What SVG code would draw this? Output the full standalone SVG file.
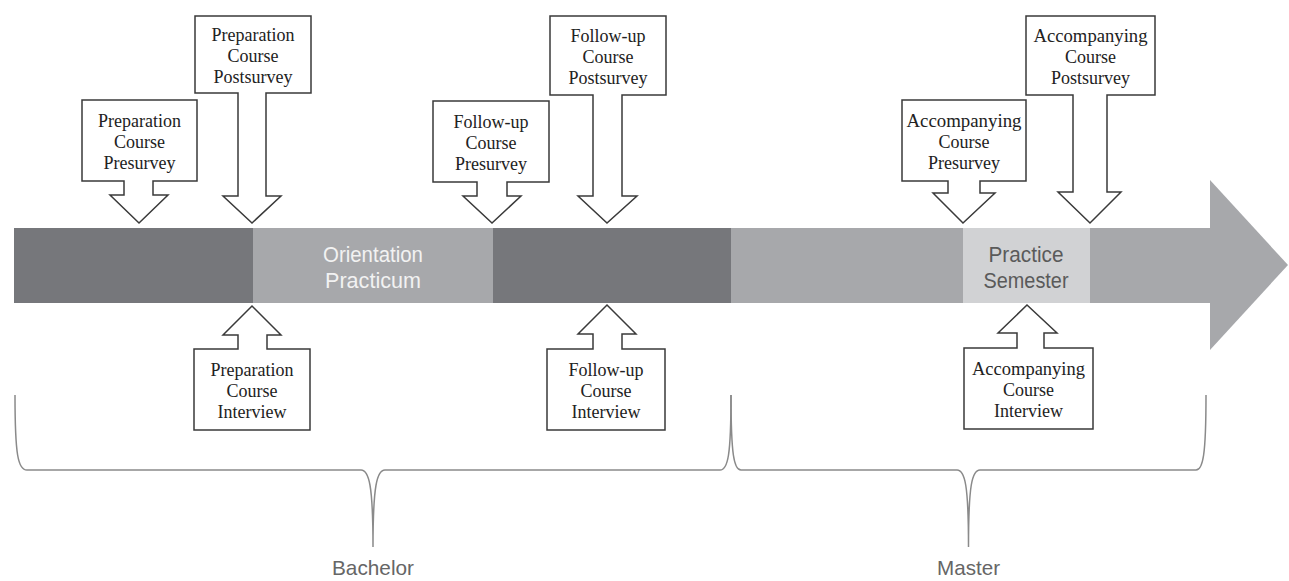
<svg xmlns="http://www.w3.org/2000/svg" width="1289" height="581" viewBox="0 0 1289 581">
<style>
.dark{fill:#76777b}
.mid{fill:#a7a8ab}
.light{fill:#d1d2d4}
.call{fill:#ffffff;stroke:#3a3a3a;stroke-width:1.5;stroke-linejoin:miter}
.ct{font-family:"Liberation Serif","Times New Roman",serif;font-size:18px;fill:#222;text-anchor:middle}
.bt{font-family:"Liberation Sans",Arial,sans-serif;font-size:22px;text-anchor:middle}
.brace{fill:none;stroke:#8a8a8a;stroke-width:1.5}
.lbl{font-family:"Liberation Sans",Arial,sans-serif;font-size:21px;fill:#666;text-anchor:middle}
</style>
<rect width="1289" height="581" fill="#ffffff"/>
<g id="timeline">
<rect class="dark" x="14" y="228" width="240" height="75"/>
<rect class="mid" x="253" y="228" width="241" height="75"/>
<rect class="dark" x="493" y="228" width="239" height="75"/>
<rect class="mid" x="731" y="228" width="233" height="75"/>
<rect class="light" x="963" y="228" width="128" height="75"/>
<rect class="mid" x="1090" y="228" width="121" height="75"/>
<polygon class="mid" points="1210,180 1288,265 1210,350"/>
</g>
<g id="orientation">
<text class="bt" fill="#f2f2f2" x="373" y="262" textLength="100" lengthAdjust="spacingAndGlyphs">Orientation</text>
<text class="bt" fill="#f2f2f2" x="373" y="288" textLength="96" lengthAdjust="spacingAndGlyphs">Practicum</text>
</g>
<g id="practice">
<text class="bt" fill="#5a5a5a" x="1026" y="262" textLength="75" lengthAdjust="spacingAndGlyphs">Practice</text>
<text class="bt" fill="#5a5a5a" x="1026" y="288" textLength="85" lengthAdjust="spacingAndGlyphs">Semester</text>
</g>
<g id="prep-pre">
<path class="call" d="M82 100 H197 V181 H153 V195 H168 L139 223 L110 195 H124 V181 H82 Z"/>
<text class="ct" x="139.5" y="127">Preparation</text>
<text class="ct" x="139.5" y="148">Course</text>
<text class="ct" x="139.5" y="169">Presurvey</text>
</g>
<g id="prep-post">
<path class="call" d="M195 16 H311 V93 H266 V196 H281 L252 223 L223 196 H238 V93 H195 Z"/>
<text class="ct" x="253" y="41">Preparation</text>
<text class="ct" x="253" y="62">Course</text>
<text class="ct" x="253" y="83">Postsurvey</text>
</g>
<g id="fu-pre">
<path class="call" d="M433 101 H549 V182 H507 V196 H521 L492 223 L463 196 H477 V182 H433 Z"/>
<text class="ct" x="491" y="128">Follow-up</text>
<text class="ct" x="491" y="149">Course</text>
<text class="ct" x="491" y="170">Presurvey</text>
</g>
<g id="fu-post">
<path class="call" d="M550 16 H666 V95 H622 V196 H637 L607 223 L578 196 H593 V95 H550 Z"/>
<text class="ct" x="608" y="42">Follow-up</text>
<text class="ct" x="608" y="63">Course</text>
<text class="ct" x="608" y="84">Postsurvey</text>
</g>
<g id="acc-pre">
<path class="call" d="M902 100 H1026 V181 H980 V193 H995 L963 223 L933 193 H948 V181 H902 Z"/>
<text class="ct" x="964" y="127" textLength="115" lengthAdjust="spacingAndGlyphs">Accompanying</text>
<text class="ct" x="964" y="148">Course</text>
<text class="ct" x="964" y="169">Presurvey</text>
</g>
<g id="acc-post">
<path class="call" d="M1026 16 H1155 V95 H1107 V192 H1121 L1090 223 L1058 192 H1073 V95 H1026 Z"/>
<text class="ct" x="1090.5" y="42" textLength="114" lengthAdjust="spacingAndGlyphs">Accompanying</text>
<text class="ct" x="1090.5" y="63">Course</text>
<text class="ct" x="1090.5" y="84">Postsurvey</text>
</g>
<g id="prep-int">
<path class="call" d="M194 430 H310 V349 H267 V335 H281 L252 306 L223 335 H238 V349 H194 Z"/>
<text class="ct" x="252" y="376">Preparation</text>
<text class="ct" x="252" y="397">Course</text>
<text class="ct" x="252" y="418">Interview</text>
</g>
<g id="fu-int">
<path class="call" d="M547 430 H665 V349 H622 V334 H636 L607 305 L578 334 H593 V349 H547 Z"/>
<text class="ct" x="606" y="376">Follow-up</text>
<text class="ct" x="606" y="397">Course</text>
<text class="ct" x="606" y="418">Interview</text>
</g>
<g id="acc-int">
<path class="call" d="M964 429 H1093 V348 H1044 V333 H1057 L1027 305 L998 333 H1017 V348 H964 Z"/>
<text class="ct" x="1028.5" y="375" textLength="113" lengthAdjust="spacingAndGlyphs">Accompanying</text>
<text class="ct" x="1028.5" y="396">Course</text>
<text class="ct" x="1028.5" y="417">Interview</text>
</g>
<g id="braces">
<path class="brace" d="M15 395 C15 455 18 470 27 470 L361 470 C369 470 373 485 373 547 C373 485 377 470 385 470 L720 470 C728 470 731 455 731 395"/>
<path class="brace" d="M731 395 C731 455 734 470 741 470 L957 470 C965 470 968.5 485 968.5 547 C968.5 485 972 470 980 470 L1196 470 C1203 470 1206 455 1206 395"/>
</g>
<g id="bachelor">
<text class="lbl" x="373" y="575" textLength="82" lengthAdjust="spacingAndGlyphs">Bachelor</text>
</g>
<g id="master">
<text class="lbl" x="968.5" y="575" textLength="63" lengthAdjust="spacingAndGlyphs">Master</text>
</g>
</svg>
